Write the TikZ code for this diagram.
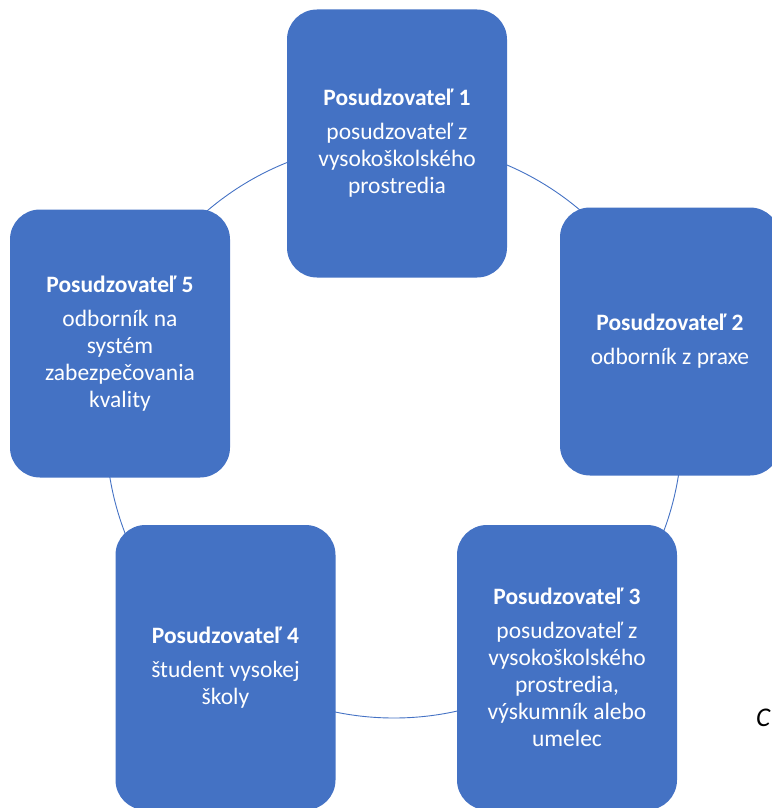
\documentclass[tikz,border=0pt]{standalone}
\usepackage{fontspec}
\setmainfont{Carlito}
\definecolor{boxblue}{HTML}{4472C4}
\tikzset{
  posbox/.style={fill=boxblue, rounded corners=30pt, text=white, align=center,
    minimum width=220pt, minimum height=268pt, inner sep=0pt,
    font=\fontsize{23.5}{27}\selectfont},
  tallbox/.style={posbox, minimum height=285pt},
  ring/.style={draw=boxblue, line width=0.9pt}
}
\begin{document}
\begin{tikzpicture}[x=1pt,y=-1pt]
        \useasboundingbox (0,0) rectangle (771,808);
        \coordinate (mid) at (394,430);
        \draw[ring] (mid) circle[radius=288pt];
        \node[posbox] (p1) at (397,143.5) {\textbf{Posudzovateľ 1}\\[7pt]posudzovateľ z\\vysokoškolského\\prostredia};
        \node[posbox] (p2) at (670,341.5) {\textbf{Posudzovateľ 2}\\[7pt]odborník z praxe};
        \node[tallbox] (p3) at (567,667.5) {\textbf{Posudzovateľ 3}\\[7pt]posudzovateľ z\\vysokoškolského\\prostredia,\\výskumník alebo\\umelec};
        \node[tallbox] (p4) at (225.5,667.5) {\textbf{Posudzovateľ 4}\\[7pt]študent vysokej\\školy};
        \node[posbox] (p5) at (120,343.5) {\textbf{Posudzovateľ 5}\\[7pt]odborník na\\systém\\zabezpečovania\\kvality};
        \node[anchor=west, inner sep=0pt, font=\fontsize{27}{30}\selectfont\itshape] (cut) at (756,718) {C};
    \end{tikzpicture}
\end{document}
